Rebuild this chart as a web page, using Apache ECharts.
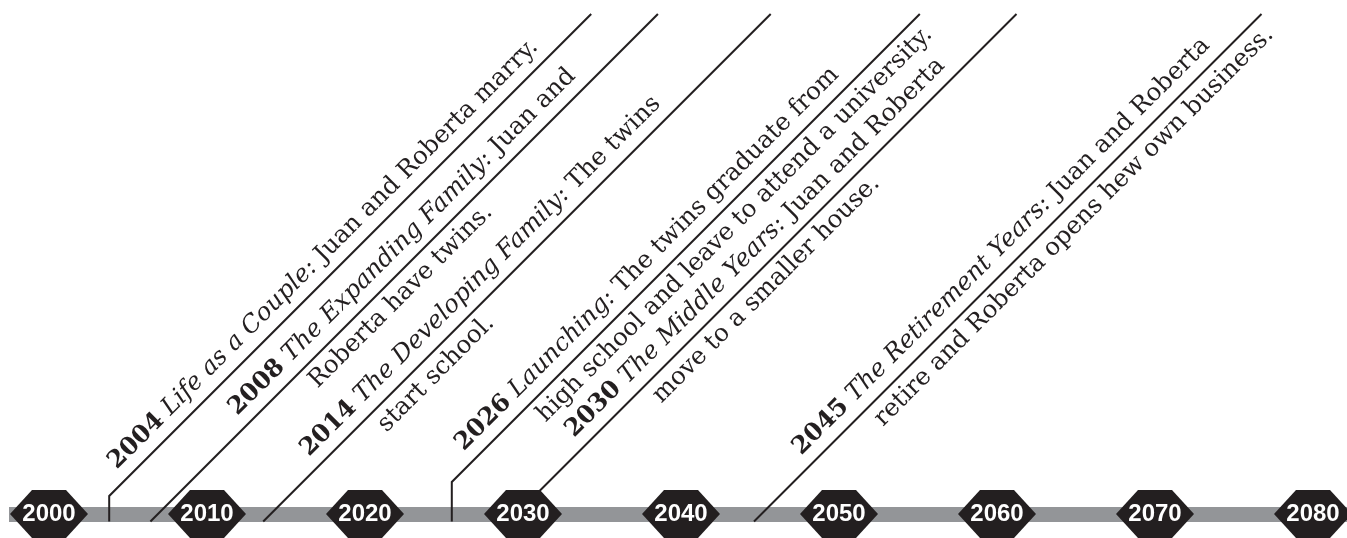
<!DOCTYPE html>
<html>
<head>
<meta charset="utf-8">
<script src="https://cdn.jsdelivr.net/npm/echarts@6/dist/echarts.min.js"></script>
<style>
html,body{margin:0;padding:0;background:#fff;}
#chart{width:1347px;height:538px;}
</style>
</head>
<body>
<div id="chart"></div>
<script>
// ---- data ----
const tickYears = [2000, 2010, 2020, 2030, 2040, 2050, 2060, 2070, 2080];
const eventYears = [2004, 2008, 2014, 2026, 2030, 2045];
const eventStages = ['Life as a Couple:', 'The Expanding Family:', 'The Developing Family:', 'Launching:', 'The Middle Years:', 'The Retirement Years:'];
const eventLine1 = ['Juan and Roberta marry.', 'Juan and', 'The twins', 'The twins graduate from', 'Juan and Roberta', 'Juan and Roberta'];
const eventLine2 = ['', 'Roberta have twins.', 'start school.', 'high school and leave to attend a university.', 'move to a smaller house.', 'retire and Roberta opens hew own business.'];

// ---- layout (leader line shape and label placement, not data) ----
const leaderLayout = [
  {nudge: -3,  stem: 25.5, s1: 60,  indent: 76},
  {nudge: -25, stem: 0,    s1: 136, indent: 76},
  {nudge: -7,  stem: 0,    s1: 78,  indent: 72},
  {nudge: -8,  stem: 39.5, s1: 86,  indent: 78},
  {nudge: -14, stem: 0,    s1: 105, indent: 86},
  {nudge: -6,  stem: 0,    s1: 80,  indent: 78}
];
const pxPerYear = 15.8;
const gridLeft = 9;
const firstTickPx = 49;
const axisMin = tickYears[0] - (firstTickPx - gridLeft) / pxPerYear;
const axisMax = tickYears[0] + (1347 - firstTickPx) / pxPerYear;

const ink = '#231f20';
const serif = 'DejaVu Serif';
const fs = 24.5;
const rich = {
  b: {fontWeight: 'bold', fontFamily: serif, fontSize: fs, fill: ink},
  i: {fontStyle: 'italic', fontFamily: serif, fontSize: fs, fill: ink}
};

const chart = echarts.init(document.getElementById('chart'), null, {renderer: 'canvas'});

const option = {
  animation: false,
  backgroundColor: '#ffffff',
  grid: {left: gridLeft, right: 0, top: 0, bottom: 24},
  xAxis: {
    type: 'value', min: axisMin, max: axisMax,
    axisLine: {show: true, onZero: false, lineStyle: {color: '#939598', width: 15, cap: 'butt'}, symbol: ['none', 'none']},
    axisTick: {show: false}, axisLabel: {show: false}, splitLine: {show: false}
  },
  yAxis: {type: 'value', min: 0, max: 1, show: false},
  series: [
    {
      type: 'custom',
      z: 2,
      silent: true,
      clip: false,
      data: eventYears.map((y, i) => [y, 0, i]),
      renderItem: function (params, api) {
        const i = params.dataIndex;
        const L = leaderLayout[i];
        const p = api.coord([api.value(0), 0]);
        const yb = p[1] + 7.5;
        const X = p[0] + L.nudge;
        const topY = 14;
        const dy = yb - L.stem;
        const pts = [[X, yb], [X, dy], [X + (dy - topY), topY]];
        const r2 = Math.SQRT1_2;
        const Bx = X - L.stem, By = yb;
        const pt = (s, d) => [Bx + s * r2 - d * r2, By - s * r2 - d * r2];
        const children = [{
          type: 'polyline',
          shape: {points: pts},
          style: {stroke: ink, lineWidth: 2, fill: null}
        }];
        const p1 = pt(L.s1, 19.5);
        children.push({
          type: 'text', x: p1[0], y: p1[1], rotation: Math.PI / 4,
          style: {
            text: '{b|' + eventYears[i] + '} {i|' + eventStages[i] + '} ' + eventLine1[i],
            rich: rich, fontFamily: serif, fontSize: fs, fill: ink,
            align: 'left', verticalAlign: 'middle'
          }
        });
        if (eventLine2[i]) {
          const p2 = pt(L.s1 + L.indent, -18);
          children.push({
            type: 'text', x: p2[0], y: p2[1], rotation: Math.PI / 4,
            style: {
              text: eventLine2[i], fontFamily: serif, fontSize: fs, fill: ink,
              align: 'left', verticalAlign: 'middle'
            }
          });
        }
        return {type: 'group', children: children};
      }
    },
    {
      type: 'scatter',
      z: 3,
      silent: true,
      data: tickYears.map(y => [y, 0]),
      symbol: 'path://M0,24 L22,0 L56,0 L78,24 L56,48 L22,48 Z',
      symbolSize: [78, 48],
      itemStyle: {color: ink, opacity: 1},
      label: {
        show: true, position: 'inside',
        formatter: p => String(p.value[0]),
        color: '#ffffff', fontSize: 24, fontWeight: 'bold', fontFamily: 'Liberation Sans'
      }
    }
  ]
};
chart.setOption(option);
</script>
</body>
</html>
